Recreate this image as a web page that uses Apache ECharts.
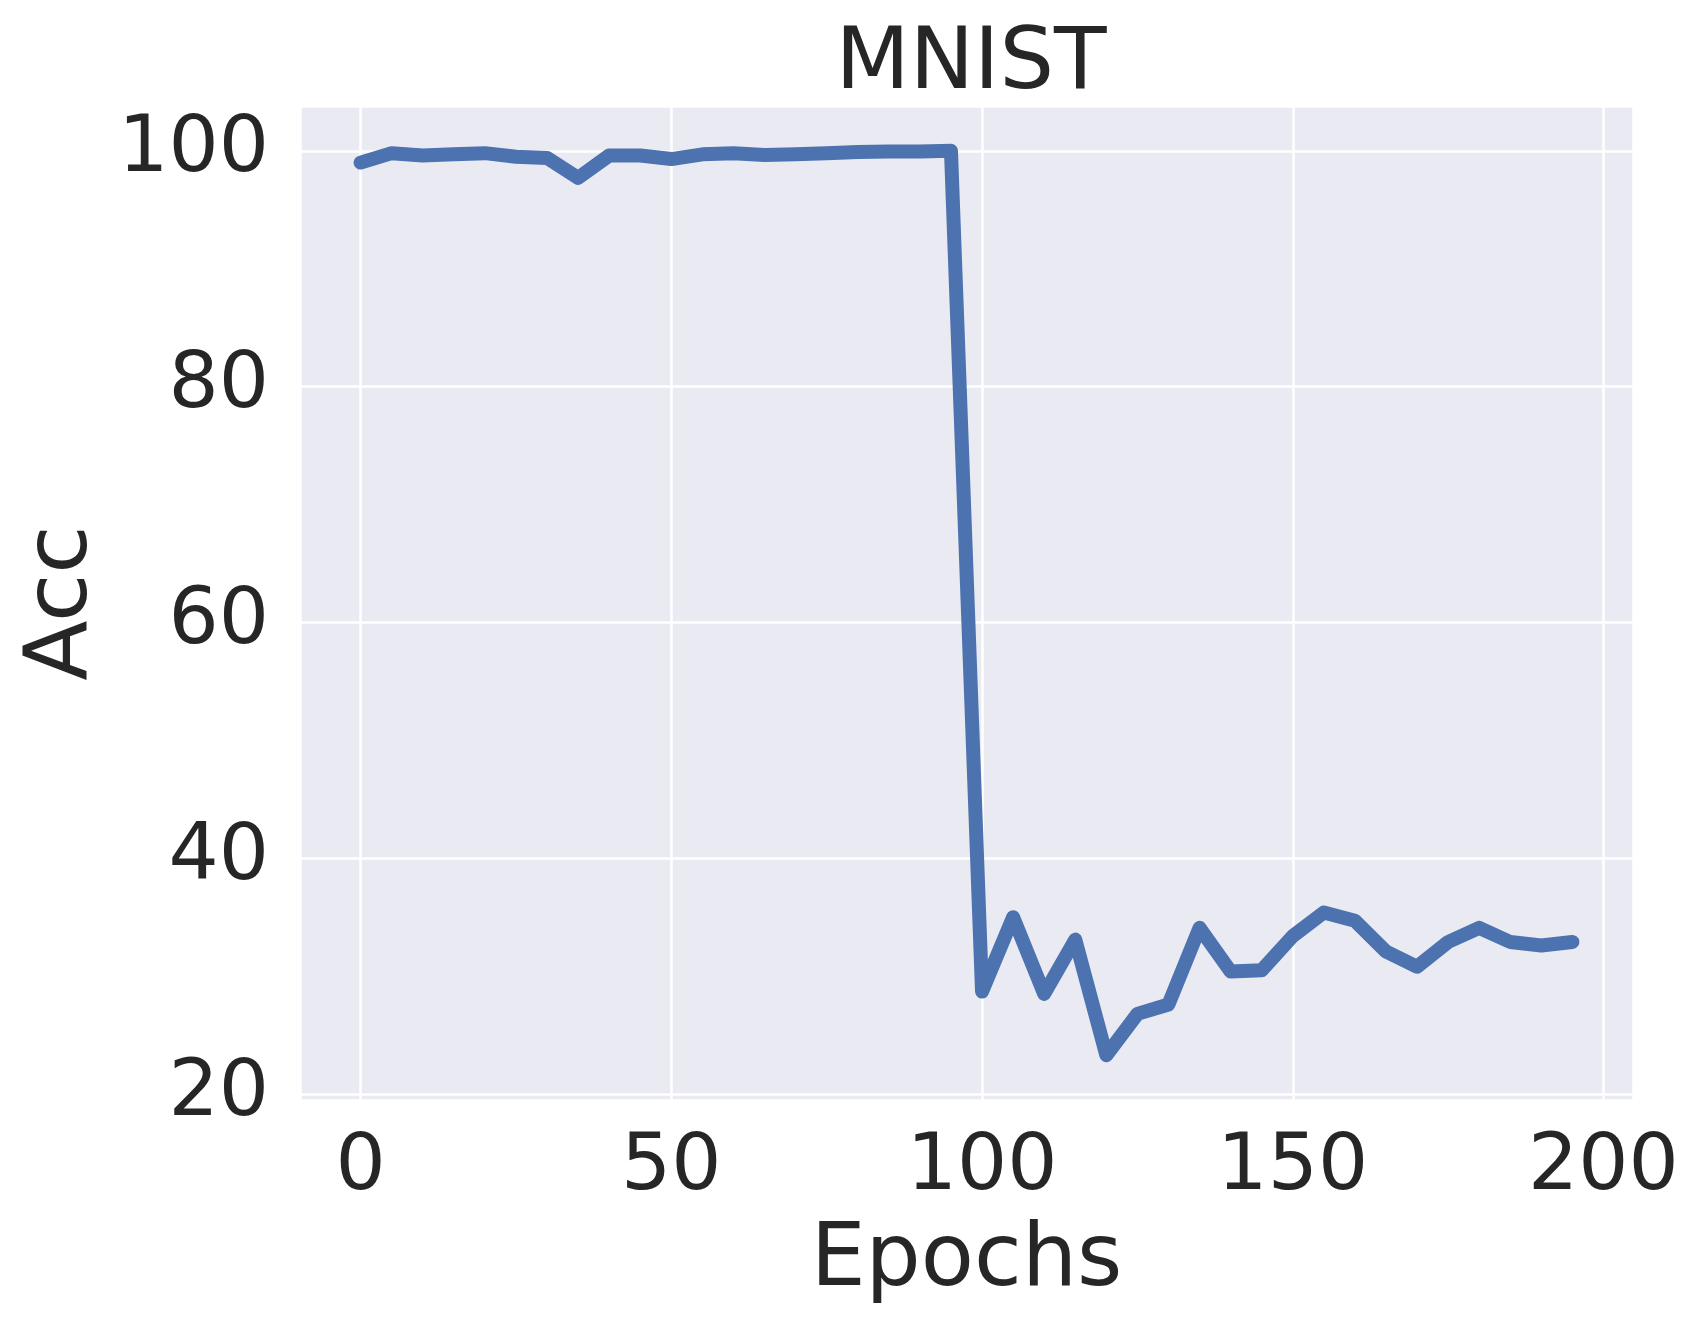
<!DOCTYPE html>
<html>
<head>
<meta charset="utf-8">
<script src="https://cdn.jsdelivr.net/npm/echarts@6/dist/echarts.min.js"></script>
<style>
html,body{margin:0;padding:0;background:#fff;}
#chart{width:1704px;height:1325px;}
</style>
</head>
<body>
<div id="chart"></div>
<script>
const epochs = [0,5,10,15,20,25,30,35,40,45,50,55,60,65,70,75,80,85,90,95,
  100,105,110,115,120,125,130,135,140,145,150,155,160,165,170,175,180,185,190,195];
const acc = [99.0,99.8,99.6,99.7,99.8,99.5,99.4,97.7,99.6,99.6,99.3,99.7,99.8,99.65,99.7,99.8,99.9,99.95,99.95,100.0,
  28.7,35.0,28.5,33.1,23.3,26.8,27.6,34.1,30.4,30.5,33.4,35.4,34.7,32.1,30.8,32.9,34.1,32.9,32.6,32.9];
const titleText = 'MNIST';
const xName = 'Epochs';
const yName = 'Acc';

const FONT = 'DejaVu Sans';
const TXT = '#262626';
const chart = echarts.init(document.getElementById('chart'), null, {renderer:'canvas'});
chart.setOption({
  backgroundColor:'#ffffff',
  animation:false,
  title:{text:titleText,left:966,top:18,textAlign:'center',
    textStyle:{fontFamily:FONT,fontSize:86,fontWeight:'normal',color:TXT}},
  grid:{left:300,right:71,top:106,bottom:225,show:true,backgroundColor:'#eaeaf2',borderWidth:0,
    containLabel:false,outerBoundsMode:'none'},
  xAxis:{type:'value',min:-9.75,max:204.75,splitNumber:5,
    name:xName,nameLocation:'middle',nameGap:119,
    nameTextStyle:{fontFamily:FONT,fontSize:87,color:TXT},
    axisLine:{show:false},axisTick:{show:false},
    axisLabel:{fontFamily:FONT,fontSize:79,color:TXT,margin:29,showMinLabel:false,showMaxLabel:false},
    splitLine:{show:true,lineStyle:{color:'#ffffff',width:2.5}}},
  yAxis:{type:'value',min:19.5,max:103.8,splitNumber:4,
    name:yName,nameLocation:'middle',nameGap:183,nameRotate:90,
    nameTextStyle:{fontFamily:FONT,fontSize:88,color:TXT},
    axisLine:{show:false},axisTick:{show:false},
    axisLabel:{fontFamily:FONT,fontSize:79,color:TXT,margin:31,showMinLabel:false,showMaxLabel:false},
    splitLine:{show:true,lineStyle:{color:'#ffffff',width:2.5}}},
  series:[{type:'line',data:epochs.map((e,i)=>[e,acc[i]]),
    showSymbol:false,symbol:'none',
    lineStyle:{color:'#4c72b0',width:14,cap:'round',join:'round'}}]
});
</script>
</body>
</html>
